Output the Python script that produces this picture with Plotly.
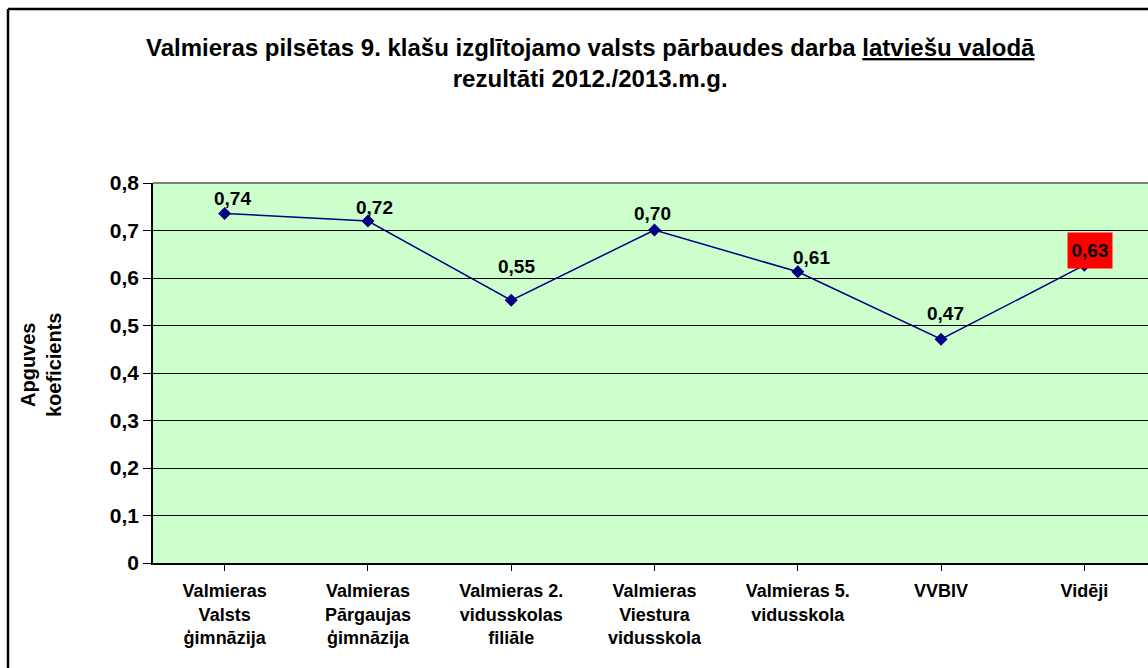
import plotly.graph_objects as go

categories = [
    "Valmieras<br>Valsts<br>ģimnāzija",
    "Valmieras<br>Pārgaujas<br>ģimnāzija",
    "Valmieras 2.<br>vidusskolas<br>filiāle",
    "Valmieras<br>Viestura<br>vidusskola",
    "Valmieras 5.<br>vidusskola",
    "VVBIV",
    "Vidēji",
]
values = [0.736, 0.72, 0.553, 0.701, 0.613, 0.471, 0.627]
y_ticks = [0, 0.1, 0.2, 0.3, 0.4, 0.5, 0.6, 0.7, 0.8]
y_tick_labels = ["0", "0,1", "0,2", "0,3", "0,4", "0,5", "0,6", "0,7", "0,8"]

# label placement offsets (pixels), styling only
label_dx = [8, 7, 5, -2, 14, 4, 6]
label_dy = [15, 14, 34, 17, 14, 26, 15]

W, H = 1148, 668
L, R, T, B = 153, 0, 183, 105
pw, ph = W - L - R, H - T - B

def px_to_paper_x(px):
    return (px - L) / pw

def px_to_paper_y(py):
    return (H - B - py) / ph

font = "Arial, Liberation Sans, sans-serif"

fig = go.Figure()
fig.add_trace(go.Scatter(
    x=list(range(len(categories))), y=values, mode="lines+markers",
    line=dict(color="#000080", width=1.5),
    marker=dict(symbol="diamond", size=10, color="#000080"),
    hoverinfo="skip", showlegend=False,
))

annotations = []
for i, v in enumerate(values):
    txt = ("%.2f" % v).replace(".", ",")
    last = i == len(values) - 1
    ann = dict(
        x=i, y=v, xref="x", yref="y", text="<b>%s</b>" % txt,
        showarrow=False, xshift=label_dx[i], yshift=label_dy[i],
        font=dict(family=font, size=19, color="black"),
    )
    if last:
        ann.update(bgcolor="#FF0000", width=40, height=31, borderpad=2)
    annotations.append(ann)

annotations.append(dict(
    x=px_to_paper_x(590), y=px_to_paper_y(63), xref="paper", yref="paper",
    text=("<b>Valmieras pilsētas 9. klašu izglītojamo valsts pārbaudes darba "
          "<span style='text-decoration:underline'>latviešu valodā</span><br>"
          "rezultāti 2012./2013.m.g.</b>"),
    showarrow=False, font=dict(family=font, size=24, color="black"),
    xanchor="center", yanchor="middle",
))
annotations.append(dict(
    x=px_to_paper_x(41), y=px_to_paper_y(365), xref="paper", yref="paper",
    text="<b>Apguves<br>koeficients</b>", textangle=-90, showarrow=False,
    font=dict(family=font, size=20, color="black"),
    xanchor="center", yanchor="middle",
))

shapes = [
    dict(type="line", xref="paper", yref="paper",
         x0=px_to_paper_x(8), x1=px_to_paper_x(8),
         y0=px_to_paper_y(9), y1=px_to_paper_y(700),
         line=dict(color="black", width=2.5)),
    dict(type="line", xref="paper", yref="paper",
         x0=px_to_paper_x(8), x1=px_to_paper_x(1200),
         y0=px_to_paper_y(9), y1=px_to_paper_y(9),
         line=dict(color="black", width=2.5)),
    dict(type="line", xref="paper", yref="paper",
         x0=0, x1=1, y0=1, y1=1, line=dict(color="#808080", width=2)),
]

fig.update_layout(
    width=W, height=H,
    margin=dict(l=L, r=R, t=T, b=B),
    paper_bgcolor="white", plot_bgcolor="#CCFFCC",
    separators=",.",
    annotations=annotations, shapes=shapes,
    xaxis=dict(
        range=[-0.5, -0.5 + 7 * pw / 1003],
        tickmode="array", tickvals=list(range(len(categories))),
        ticktext=["<b>%s</b>" % c for c in categories],
        tickson="boundaries", ticks="outside", ticklen=6, tickcolor="black",
        showgrid=False, showline=True, linecolor="black", linewidth=1.5,
        tickfont=dict(family=font, size=18, color="black"),
        ticklabelstandoff=5,
        zeroline=False, fixedrange=True,
    ),
    yaxis=dict(
        range=[0, 0.8], tickmode="array", tickvals=y_ticks,
        ticktext=["<b>%s</b>" % t for t in y_tick_labels],
        ticks="outside", ticklen=8, tickcolor="black",
        showgrid=True, gridcolor="black", gridwidth=1,
        showline=True, linecolor="black", linewidth=1.5,
        zeroline=False, tickfont=dict(family=font, size=21, color="black"),
        fixedrange=True,
    ),
)

fig.write_html("out.html", config={"displayModeBar": False},
               post_script="document.body.style.margin='0';")
